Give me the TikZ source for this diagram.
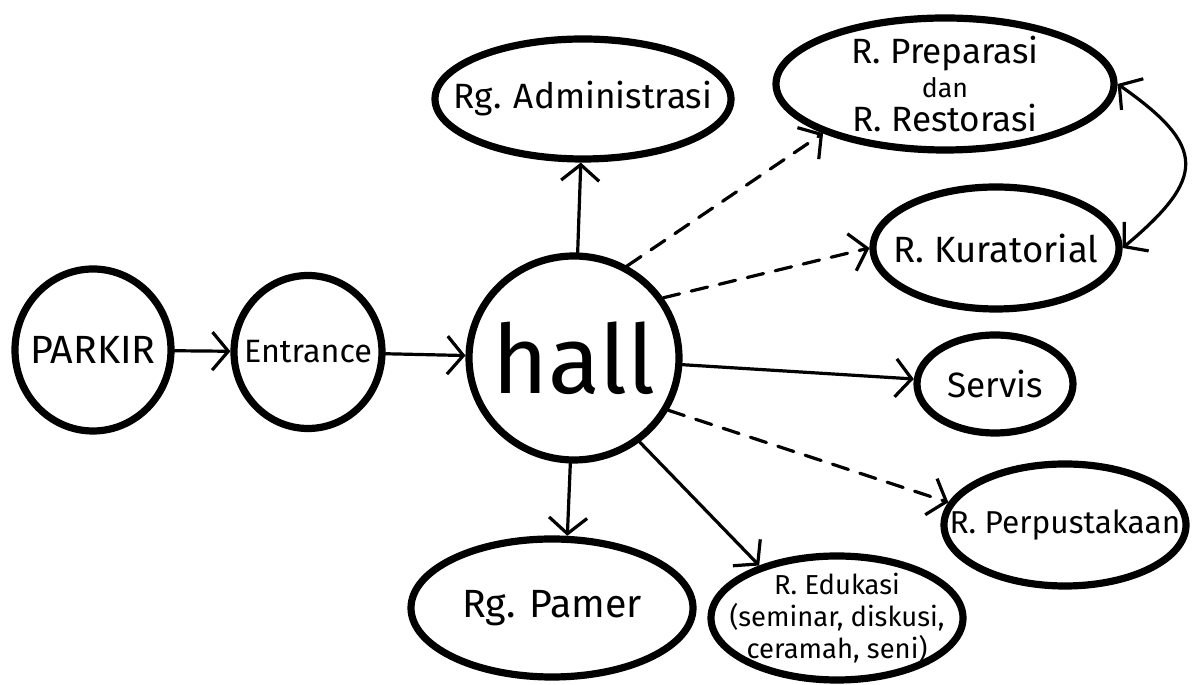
\documentclass[tikz,border=0pt]{standalone}
\usepackage{fontspec}
\setmainfont{Fira Sans}
\usetikzlibrary{arrows.meta,shapes.geometric}

\tikzset{
  room/.style={ellipse,draw,line width=1.8mm,inner sep=-10mm,align=center,
    font=\fontsize{25}{27}\selectfont},
  sz/.style 2 args={minimum width=#1*0.25mm,minimum height=#2*0.25mm},
  link/.style={->,line width=0.8mm,line cap=round},
  dlink/.style={link,dash pattern=on 4.2mm off 3mm}
}

\begin{document}
\begin{tikzpicture}[x=0.25mm,y=0.25mm,>={Straight Barb[length=4mm,width=9.5mm]},line join=round]
\useasboundingbox (0,0) rectangle (1192,685);
\node[room,sz={156}{162},font=\fontsize{28}{30}\selectfont] (p) at (93,335) {PARKIR};
\node[room,sz={148}{153},font=\fontsize{23}{25}\selectfont] (e) at (308,333) {Entrance};
\node[room,sz={210}{204},font=\fontsize{68}{68}\selectfont] (h) at (574,327) {hall};
\node[room,sz={296}{120}] (adm) at (583,586) {Rg. Administrasi};
\node[room,sz={338}{132},font=\fontsize{25}{24}\selectfont] (prep) at (945,601) {R. Preparasi\\{\fontsize{19}{24}\selectfont dan}\\R. Restorasi};
\node[room,sz={246}{122},font=\fontsize{26}{28}\selectfont] (kur) at (996,437) {R. Kuratorial};
\node[room,sz={156}{98}] (srv) at (995,301) {Servis};
\node[room,sz={242}{122},font=\fontsize{22.5}{25}\selectfont] (pus) at (1065,160) {R. Perpustakaan};
\node[room,sz={252}{124},font=\fontsize{19.5}{22.5}\selectfont] (edu) at (837,67) {R. Edukasi\\(seminar, diskusi,\\ceramah, seni)};
\node[room,sz={282}{138},font=\fontsize{28}{30}\selectfont] (pmr) at (552,77) {Rg. Pamer};
% solid links
\draw[link] (p) -- (e);
\draw[link] (e) -- (h);
\draw[link] (h) -- (adm);
\draw[link] (h.268) -- (pmr.78);
\draw[link] (h.-52) -- (edu.146);
\draw[link] (h) -- (srv);
% dashed links
\draw[dlink] (h.60) -- (prep.202);
\draw[dlink] (h.34) -- (kur.west);
\draw[dlink] (h.-29) -- (pus.169);
% two-way link
\draw[link,<->] (prep.east) to[out=-35,in=40,looseness=1.7] (kur.east);
\end{tikzpicture}
\end{document}
